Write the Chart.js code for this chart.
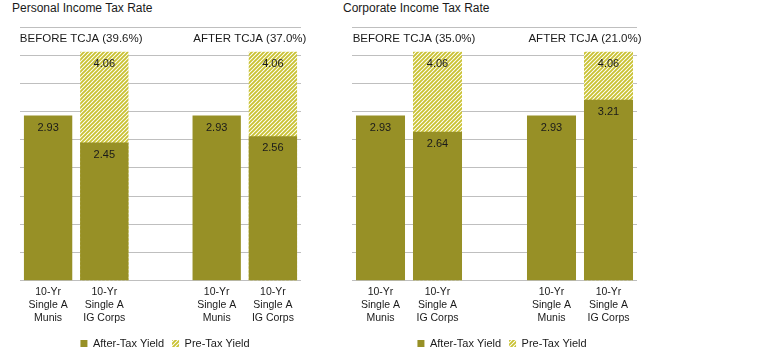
<!DOCTYPE html>
<html>
<head>
<meta charset="utf-8">
<script src="https://cdn.jsdelivr.net/npm/chart.js@4.4.1/dist/chart.umd.min.js"></script>
<style>
  body { margin: 0; background: #fff; font-family: 'Liberation Sans', Arial, sans-serif; }
  #wrap { position: relative; width: 769px; height: 364px; }
  .ttl { position: absolute; top: 1px; font-size: 12px; color: #1a1a1a; white-space: nowrap; }
  .box { position: absolute; top: 0; width: 330px; height: 364px; }
</style>
</head>
<body>
<div id="wrap">
  <div class="ttl" style="left:12px">Personal Income Tax Rate</div>
  <div class="ttl" style="left:343px">Corporate Income Tax Rate</div>
  <div class="box" style="left:0"><canvas id="personal"></canvas></div>
  <div class="box" style="left:330px"><canvas id="corporate"></canvas></div>
</div>
<script>
// ---- data ----
const categories = [
  ['10-Yr', 'Single A', 'Munis'],
  ['10-Yr', 'Single A', 'IG Corps'],
  '',
  ['10-Yr', 'Single A', 'Munis'],
  ['10-Yr', 'Single A', 'IG Corps'],
];
const personalAfterTax  = [2.93, 2.45, null, 2.93, 2.56];
const personalPreTax    = [null, 4.06, null, null, 4.06];
const corporateAfterTax = [2.93, 2.64, null, 2.93, 3.21];
const corporatePreTax   = [null, 4.06, null, null, 4.06];
const personalGroups  = ['BEFORE TCJA (39.6%)', 'AFTER TCJA (37.0%)'];
const corporateGroups = ['BEFORE TCJA (35.0%)', 'AFTER TCJA (21.0%)'];
const seriesNames = ['After-Tax Yield', 'Pre-Tax Yield'];
const yMin = 0, yMax = 4.5, yStep = 0.5;

const OLIVE = '#979026';
const HATCH = '#c9c232';
const GRID = '#bfbfbf';
const FONT = "'Liberation Sans', Arial, sans-serif";

function makeHatch(color) {
  const s = 4;
  const c = document.createElement('canvas');
  c.width = c.height = s;
  const g = c.getContext('2d');
  g.fillStyle = '#fff';
  g.fillRect(0, 0, s, s);
  g.strokeStyle = color;
  g.lineWidth = 1.9;
  g.beginPath();
  g.moveTo(0, s); g.lineTo(s, 0);
  g.moveTo(-1, 1); g.lineTo(1, -1);
  g.moveTo(s - 1, s + 1); g.lineTo(s + 1, s - 1);
  g.stroke();
  return g.createPattern(c, 'repeat');
}

// value labels inside the top of each bar
const valueLabels = {
  id: 'valueLabels',
  afterDatasetsDraw(chart) {
    const ctx = chart.ctx;
    ctx.save();
    ctx.font = '11px ' + FONT;
    ctx.fillStyle = '#1a1a1a';
    ctx.textAlign = 'center';
    ctx.textBaseline = 'middle';
    chart.data.datasets.forEach((ds, i) => {
      chart.getDatasetMeta(i).data.forEach((bar, j) => {
        const v = ds.data[j];
        if (v == null) return;
        ctx.fillText(v.toFixed(2), bar.x, bar.y + 12);
      });
    });
    ctx.restore();
  }
};

// BEFORE / AFTER captions over each pair of bars
const groupLabels = {
  id: 'groupLabels',
  afterDatasetsDraw(chart, args, opts) {
    const x = chart.scales.x, y = chart.scales.y;
    const ctx = chart.ctx;
    ctx.save();
    ctx.font = '11.5px ' + FONT;
    ctx.fillStyle = '#1a1a1a';
    ctx.textAlign = 'center';
    ctx.textBaseline = 'middle';
    opts.labels.forEach((txt, k) => {
      const a = x.getPixelForValue(k * 3), b = x.getPixelForValue(k * 3 + 1);
      ctx.fillText(txt, (a + b) / 2 + 5, y.getPixelForValue(4.29));
    });
    ctx.restore();
  }
};

function buildChart(id, afterTax, preTax, groups, pad, axisW) {
  return new Chart(document.getElementById(id), {
    type: 'bar',
    data: {
      labels: categories,
      datasets: [
        { label: seriesNames[0], data: afterTax, backgroundColor: OLIVE, borderWidth: 0 },
        { label: seriesNames[1], data: preTax, backgroundColor: makeHatch(HATCH), borderWidth: 0 },
      ]
    },
    options: {
      responsive: true,
      maintainAspectRatio: false,
      animation: false,
      layout: { padding: pad },
      datasets: { bar: { barPercentage: 0.86, categoryPercentage: 1 } },
      scales: {
        x: {
          stacked: true,
          grid: { display: false, drawTicks: false },
          border: { display: false },
          ticks: { color: '#1a1a1a', padding: 5, font: { family: FONT, size: 10.5, lineHeight: 1.25 }, maxRotation: 0, autoSkip: false }
        },
        y: {
          stacked: false,
          position: 'right',
          min: yMin, max: yMax,
          ticks: { display: false, stepSize: yStep },
          grid: { color: GRID, lineWidth: 1, drawTicks: false },
          border: { display: false },
          afterFit: s => { s.width = axisW; }
        }
      },
      plugins: {
        legend: {
          position: 'bottom',
          labels: { boxWidth: 7, boxHeight: 7, padding: 8, color: '#1a1a1a', font: { family: FONT, size: 11 } }
        },
        tooltip: { enabled: false },
        groupLabels: { labels: groups }
      }
    },
    plugins: [valueLabels, groupLabels]
  });
}

buildChart('personal', personalAfterTax, personalPreTax, personalGroups,
  { left: 20, right: 20, top: 27, bottom: 5 }, 9);
buildChart('corporate', corporateAfterTax, corporatePreTax, corporateGroups,
  { left: 22, right: 8, top: 27, bottom: 5 }, 15);
</script>
</body>
</html>
